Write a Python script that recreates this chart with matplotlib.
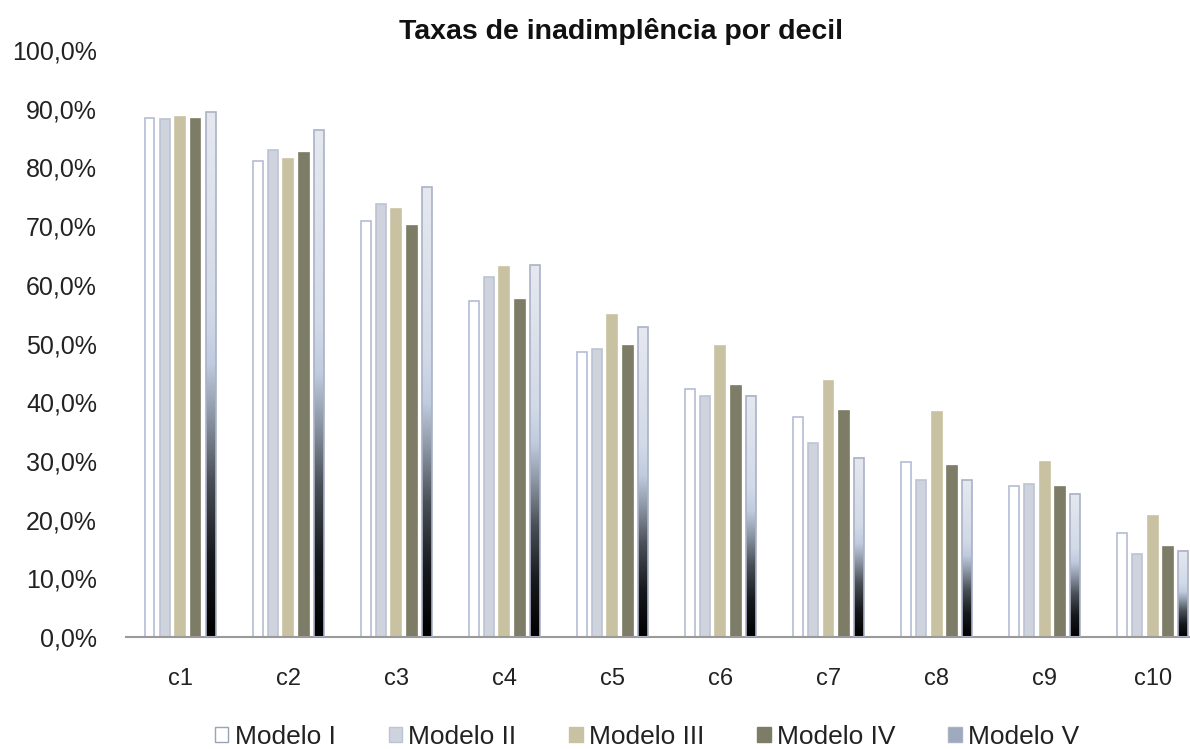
import matplotlib
matplotlib.use("Agg")
import matplotlib.pyplot as plt
import numpy as np
from matplotlib.colors import LinearSegmentedColormap
from matplotlib.patches import Patch, Rectangle
from matplotlib.ticker import FuncFormatter

plt.rcParams['font.family'] = ['Liberation Sans', 'DejaVu Sans']

# Default rate (%) per decile for each model
deciles = ['c1', 'c2', 'c3', 'c4', 'c5', 'c6', 'c7', 'c8', 'c9', 'c10']
modelo_1 = [88.5, 81.1, 70.9, 57.2, 48.6, 42.2, 37.4, 29.9, 25.7, 17.8]
modelo_2 = [88.2, 83.0, 73.7, 61.3, 49.0, 41.1, 33.0, 26.7, 26.1, 14.1]
modelo_3 = [88.6, 81.5, 72.9, 63.0, 54.9, 49.6, 43.6, 38.4, 29.9, 20.6]
modelo_4 = [88.3, 82.4, 70.1, 57.4, 49.6, 42.8, 38.5, 29.1, 25.6, 15.4]
modelo_5 = [89.4, 86.3, 76.6, 63.3, 52.8, 41.1, 30.5, 26.7, 24.4, 14.7]
labels = ['Modelo I', 'Modelo II', 'Modelo III', 'Modelo IV', 'Modelo V']

fig = plt.figure(figsize=(11.9, 7.49), dpi=100)
ax = fig.add_axes([0.106, 0.1495, 0.908, 0.7837])

x = np.arange(len(deciles))
step = 0.142
width = 0.092

# solid series: (values, face, edge)
solid = [
    (modelo_1, '#ffffff', '#b4bcd4'),
    (modelo_2, '#cfd3de', '#bcc3d3'),
    (modelo_3, '#c9c2a2', '#c9c2a2'),
    (modelo_4, '#7d7c66', '#7d7c66'),
]
for i, (vals, face, edge) in enumerate(solid):
    ax.bar(x + (i - 2) * step, np.array(vals) / 100, width, color=face,
           edgecolor=edge, linewidth=1.2, zorder=2)

# Modelo V: vertical gradient from near-black at the base to pale blue-grey
grad = LinearSegmentedColormap.from_list('modelo5', [
    (0.00, '#000000'), (0.15, '#16191d'), (0.30, '#4a5058'),
    (0.42, '#8c96a4'), (0.52, '#bfcbdf'), (0.62, '#d2dae8'),
    (1.00, '#e5e8ef')])
ramp = np.linspace(0, 1, 256).reshape(-1, 1)
for xi, v in zip(x + 2 * step, modelo_5):
    h = v / 100
    ax.imshow(ramp, extent=[xi - width / 2, xi + width / 2, 0, h],
              origin='lower', aspect='auto', cmap=grad, zorder=2)
    ax.add_patch(Rectangle((xi - width / 2, 0), width, h, fill=False,
                           edgecolor='#aab2c6', linewidth=1.2, zorder=3))

ax.set_xlim(-0.5, len(deciles) - 0.5)
ax.set_ylim(0, 1.0)
ax.set_yticks(np.arange(0, 1.01, 0.1))
ax.yaxis.set_major_formatter(FuncFormatter(lambda v, _: f'{v * 100:.1f}%'.replace('.', ',')))
ax.set_xticks(x)
ax.set_xticklabels(deciles)
ax.tick_params(axis='y', length=0, pad=21, labelsize=18, labelcolor='#222222')
ax.tick_params(axis='x', length=0, pad=22, labelsize=17, labelcolor='#222222')

for side in ['left', 'right', 'top']:
    ax.spines[side].set_visible(False)
ax.spines['bottom'].set_color('#9a9a9a')
ax.spines['bottom'].set_linewidth(1.5)

fig.text(0.522, 0.958, 'Taxas de inadimplência por decil', ha='center', va='center',
         fontsize=20.5, fontweight='bold', color='#111111')

handles = [
    Patch(facecolor='#ffffff', edgecolor='#9aa2b8', linewidth=1),
    Patch(facecolor='#cfd3de', edgecolor='#bcc3d3', linewidth=1),
    Patch(facecolor='#c9c2a2', edgecolor='#c9c2a2'),
    Patch(facecolor='#7d7c66', edgecolor='#7d7c66'),
    Patch(facecolor='#9ea9bd', edgecolor='#aab2c6', linewidth=1),
]
fig.legend(handles, labels, loc='center', bbox_to_anchor=(0.544, 0.016), ncol=5,
           frameon=False, fontsize=19, handlelength=0.5, handleheight=0.5,
           handletextpad=0.25, columnspacing=2.0, labelcolor='#222222')

fig.savefig('out.png', dpi=100)
